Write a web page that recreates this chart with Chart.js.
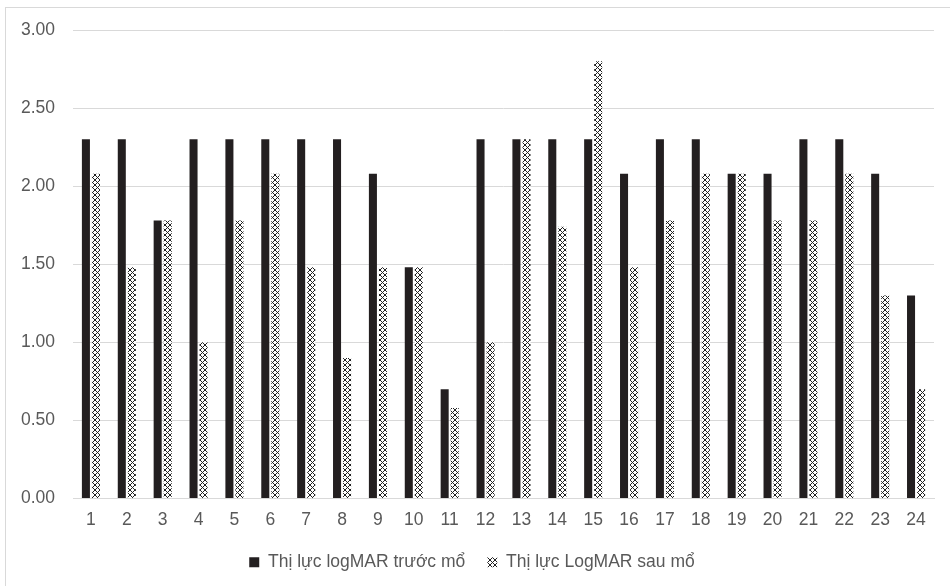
<!DOCTYPE html>
<html>
<head>
<meta charset="utf-8">
<script src="https://cdn.jsdelivr.net/npm/chart.js@4.4.1/dist/chart.umd.min.js"></script>
<style>
  html, body { margin: 0; padding: 0; background: #fff; overflow: hidden; }
  #wrap { position: relative; width: 950px; height: 586px; }
  #frame { position: absolute; left: 5px; top: 7px; width: 980px; height: 620px; border: 1px solid #d9d9d9; }
  #chart { position: absolute; left: 0; top: 0; }
</style>
</head>
<body>
<div id="wrap">
  <div id="frame"></div>
  <canvas id="chart" width="950" height="586"></canvas>
</div>
<script>
// Categories (patients) and values
const patients = ["1","2","3","4","5","6","7","8","9","10","11","12",
  "13","14","15","16","17","18","19","20","21","22","23","24"];
const beforeSurgery = [2.3, 2.3, 1.78, 2.3, 2.3, 2.3, 2.3, 2.3, 2.08, 1.48, 0.7, 2.3,
  2.3, 2.3, 2.3, 2.08, 2.3, 2.3, 2.08, 2.08, 2.3, 2.3, 2.08, 1.3];
const afterSurgery = [2.08, 1.48, 1.78, 1.0, 1.78, 2.08, 1.48, 0.9, 1.48, 1.48, 0.58, 1.0,
  2.3, 1.74, 2.8, 1.48, 1.78, 2.08, 2.08, 1.78, 1.78, 2.08, 1.3, 0.7];
const seriesNames = ["Thị lực logMAR trước mổ", "Thị lực LogMAR sau mổ"];

// Crosshatch fill for the "after" series
function makeHatch() {
  const tile = document.createElement("canvas");
  tile.width = 5; tile.height = 5;
  const c = tile.getContext("2d");
  c.fillStyle = "#ffffff";
  c.fillRect(0, 0, 5, 5);
  c.fillStyle = "#222222";
  [[0,0],[1,1],[2,2],[3,3],[4,4],[4,0],[3,1],[1,3],[0,4]].forEach(p => c.fillRect(p[0], p[1], 1, 1));
  return document.getElementById("chart").getContext("2d").createPattern(tile, "repeat");
}
const hatch = makeHatch();

const textColor = "#595959";
const font = { family: "'Liberation Sans', Arial, sans-serif", size: 17.5 };

new Chart(document.getElementById("chart"), {
  type: "bar",
  data: {
    labels: patients,
    datasets: [
      {
        label: seriesNames[0],
        data: beforeSurgery,
        backgroundColor: "#231f20",
        borderWidth: 0,
        categoryPercentage: 0.56,
        barPercentage: 0.8
      },
      {
        label: seriesNames[1],
        data: afterSurgery,
        backgroundColor: hatch,
        borderWidth: 0,
        categoryPercentage: 0.56,
        barPercentage: 0.8
      }
    ]
  },
  options: {
    responsive: false,
    animation: false,
    layout: { padding: { left: 10, right: 16, top: 30, bottom: 5 } },
    plugins: {
      tooltip: { enabled: false },
      legend: {
        position: "bottom",
        labels: {
          color: textColor,
          font: font,
          boxWidth: 10,
          boxHeight: 10,
          padding: 22
        }
      }
    },
    scales: {
      x: {
        afterFit: s => { s.height = s.height - 10; },
        grid: { display: false, drawTicks: false },
        border: { display: true, color: "#d9d9d9", width: 1 },
        ticks: { color: textColor, font: font, padding: 11, maxRotation: 0 }
      },
      y: {
        min: 0,
        max: 3,
        afterFit: s => { s.width = 63; },
        grid: { color: "#d9d9d9", drawTicks: false },
        border: { display: false },
        ticks: {
          stepSize: 0.5,
          color: textColor,
          font: font,
          padding: 18,
          callback: v => v.toFixed(2)
        }
      }
    }
  }
});
</script>
</body>
</html>
